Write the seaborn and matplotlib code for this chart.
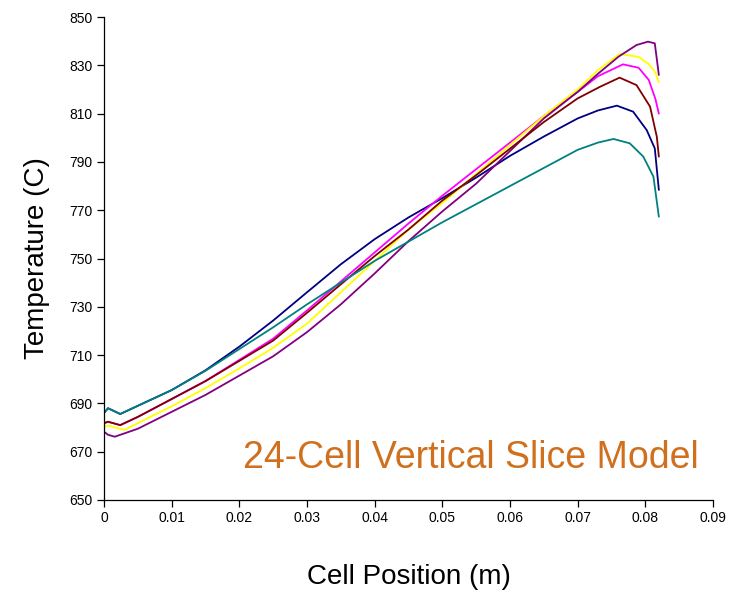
import matplotlib
matplotlib.use("Agg")
import matplotlib.pyplot as plt
import numpy as np
import pandas as pd
import seaborn as sns

# Temperature profiles along the cell (position in m, temperature in C)
pos_navy = [0, 0.0006, 0.0024, 0.005, 0.01, 0.015, 0.02, 0.025, 0.03, 0.035, 0.04,
            0.045, 0.05, 0.055, 0.06, 0.065, 0.07, 0.073, 0.0758, 0.0782, 0.0802, 0.0814, 0.082]
temp_navy = [686, 688, 685.6, 689, 695.5, 703.7, 713.5, 724.3, 736, 747.6, 758,
             767, 775, 783.5, 792.5, 800.5, 808, 811.3, 813.3, 810.8, 803.2, 795.6, 778.4]

pos_magenta = [0, 0.0006, 0.0024, 0.005, 0.01, 0.015, 0.02, 0.025, 0.03, 0.035, 0.04,
               0.045, 0.05, 0.055, 0.06, 0.065, 0.07, 0.073, 0.0767, 0.079, 0.0805, 0.0815, 0.082]
temp_magenta = [681.8, 682.4, 681, 684.4, 691.8, 699.3, 708, 716.8, 728.5, 740.5, 752.5,
                764.5, 776, 787, 798, 809, 819, 825.5, 830.4, 829, 824, 816, 810]

pos_yellow = [0, 0.0006, 0.003, 0.005, 0.01, 0.015, 0.02, 0.025, 0.03, 0.035, 0.04,
              0.045, 0.05, 0.055, 0.06, 0.065, 0.07, 0.073, 0.0762, 0.079, 0.0805, 0.0815, 0.082]
temp_yellow = [680.3, 680.8, 679, 681.8, 688.8, 696.3, 704.5, 713, 723, 736, 749,
               762, 773, 785, 797, 809, 820, 828, 834.7, 833.5, 830.5, 827, 823]

pos_purple = [0, 0.0006, 0.0016, 0.005, 0.01, 0.015, 0.02, 0.025, 0.03, 0.035, 0.04,
              0.045, 0.05, 0.055, 0.06, 0.065, 0.07, 0.073, 0.076, 0.0787, 0.0804, 0.0814, 0.082]
temp_purple = [678.3, 677, 676.2, 679.5, 686.5, 693.5, 701.5, 709.5, 719.5, 731, 743.8,
               757.2, 769.5, 781, 794.5, 808, 819, 826.5, 833.5, 838.4, 839.8, 839.1, 826]

pos_maroon = [0, 0.0006, 0.0024, 0.005, 0.01, 0.015, 0.02, 0.025, 0.03, 0.035, 0.04,
              0.045, 0.05, 0.055, 0.06, 0.065, 0.07, 0.0733, 0.0762, 0.0787, 0.0807, 0.0817, 0.082]
temp_maroon = [681.8, 682.4, 681, 684.4, 691.8, 699.2, 707.6, 716, 727.5, 739.3, 751,
               762, 774, 784.5, 795.5, 806.5, 816.3, 821.1, 824.9, 821.8, 812.9, 800.4, 792.2]

pos_teal = [0, 0.0006, 0.0024, 0.005, 0.01, 0.015, 0.02, 0.025, 0.03, 0.035, 0.04,
            0.045, 0.05, 0.055, 0.06, 0.065, 0.07, 0.073, 0.0753, 0.0777, 0.0797, 0.0812, 0.082]
temp_teal = [686, 688, 685.6, 689, 695.5, 703.5, 712.5, 721.5, 731, 740, 749,
             757, 765, 772.5, 780, 787.5, 795, 798, 799.5, 797.7, 792.2, 783.9, 767.3]

series_names = ["navy", "magenta", "yellow", "purple", "maroon", "teal"]
series_colors = ["#000080", "#FF00FF", "#FFFF00", "#800080", "#800000", "#008080"]
series_pos = [pos_navy, pos_magenta, pos_yellow, pos_purple, pos_maroon, pos_teal]
series_temp = [temp_navy, temp_magenta, temp_yellow, temp_purple, temp_maroon, temp_teal]

x_ticks = [0, 0.01, 0.02, 0.03, 0.04, 0.05, 0.06, 0.07, 0.08, 0.09]
x_tick_labels = ["0", "0.01", "0.02", "0.03", "0.04", "0.05", "0.06", "0.07", "0.08", "0.09"]
y_ticks = [650, 670, 690, 710, 730, 750, 770, 790, 810, 830, 850]

frames = []
for name, xs, ys in zip(series_names, series_pos, series_temp):
    frames.append(pd.DataFrame({"pos": xs, "temp": ys, "series": name}))
df = pd.concat(frames, ignore_index=True)

sns.set_style("ticks")
plt.rcParams["font.family"] = ["Liberation Sans", "DejaVu Sans"]
plt.rcParams["text.color"] = "black"
plt.rcParams["axes.labelcolor"] = "black"

fig = plt.figure(figsize=(7.39, 5.91), dpi=100)
ax = fig.add_axes([0.1407, 0.154, 0.8241, 0.8172])

sns.lineplot(data=df, x="pos", y="temp", hue="series", hue_order=series_names,
             palette=dict(zip(series_names, series_colors)), sort=False,
             estimator=None, linewidth=1.3, legend=False, ax=ax)

ax.set_xlim(0, 0.09)
ax.set_ylim(650, 850)
ax.set_xticks(x_ticks)
ax.set_xticklabels(x_tick_labels)
ax.set_yticks(y_ticks)
ax.tick_params(axis="both", direction="out", length=5, width=0.9, colors="black",
               labelsize=10, pad=3)
for side in ["top", "right"]:
    ax.spines[side].set_visible(False)
for side in ["left", "bottom"]:
    ax.spines[side].set_color("black")
    ax.spines[side].set_linewidth(0.9)

ax.set_xlabel("Cell Position (m)", fontsize=20, labelpad=28, color="black")
ax.set_ylabel("Temperature (C)", fontsize=20, labelpad=14, color="black")

ax.text(0.228, 0.066, "24-Cell Vertical Slice Model", transform=ax.transAxes,
        ha="left", va="baseline", fontsize=27, color="#D0701F")

fig.savefig("out.png", dpi=100)
